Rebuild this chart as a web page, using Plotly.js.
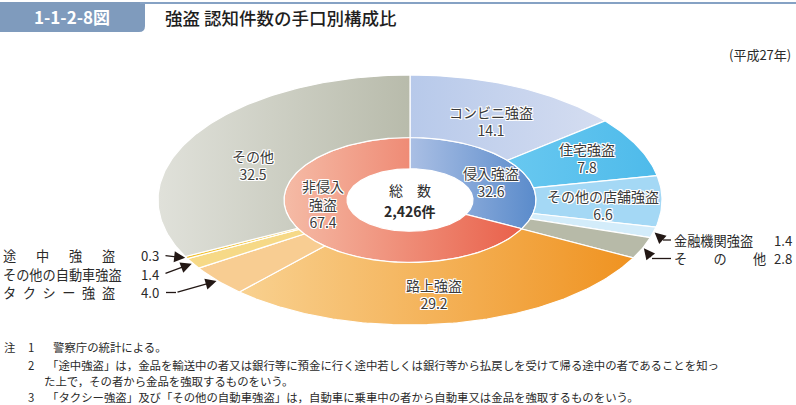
<!DOCTYPE html>
<html><head><meta charset="utf-8">
<script src="https://cdn.plot.ly/plotly-3.0.1.min.js"></script>
<style>html,body{margin:0;padding:0;background:#fff}#chart{width:796px;height:405px}</style>
</head><body><div id="chart"></div>
<script>
// ---------------- data ----------------
const innerLabels = ['侵入強盗', '非侵入<br>強盗'];
const innerValues = [32.6, 67.4];
const outerLabels = ['コンビニ強盗', '住宅強盗', 'その他の店舗強盗', '金融機関強盗', 'その他',
                     '路上強盗', 'タクシー強盗', 'その他の自動車強盗', '途中強盗', 'その他'];
const outerValues = [14.1, 7.8, 6.6, 1.4, 2.8, 29.2, 4.0, 1.4, 0.3, 32.5];
const calloutNames = ['', '', '', '金融機関強盗', 'そ　　の　　他', '',
  'タ\u2002ク\u2002シ\u2002ー\u2002強\u2002盗', 'その他の自動車強盗', '途　\u2002中　\u2002強　\u2002盗', ''];
const totalLabel = '総　数';
const totalCount = '2,426件';
const chartNo = '1-1-2-8図';
const chartTitle = '強盗 認知件数の手口別構成比';
const yearNote = '(平成27年)';
const notes = [
  ['注', '1', '警察庁の統計による。'],
  ['', '2', '「途中強盗」は，金品を輸送中の者又は銀行等に預金に行く途中若しくは銀行等から払戻しを受けて帰る途中の者であることを知っ'],
  ['', '', 'た上で，その者から金品を強取するものをいう。'],
  ['', '3', '「タクシー強盗」及び「その他の自動車強盗」は，自動車に乗車中の者から自動車又は金品を強取するものをいう。']
];

// ---------------- styles / geometry ----------------
const W = 796, H = 405, CX = 410, CY = 200, RXPX = 252, RYPX = 125;
const R_HOLE = 0.25, R_MID = 0.5, R_OUT = 1.0;
const FONT = '"Noto Sans CJK JP", "Noto Sans", sans-serif';
const HALO = '1px 1px 0 #fff, -1px -1px 0 #fff, 1px -1px 0 #fff, -1px 1px 0 #fff, 0 1px 0 #fff, 0 -1px 0 #fff, 1px 0 0 #fff, -1px 0 0 #fff';
const px2x = p => (p - CX) / RXPX;
const py2y = p => (CY - p) / RYPX;
const px2paper = p => p / W;
const py2paper = p => 1 - p / H;

const innerStyle = [
  {grad: [['0', '#aabfe4'], ['1', '#5a8bcb']], start: 0, stop: 0.5, shift: [0, -6]},
  {grad: [['0', '#f5bba6'], ['1', '#e9604a']], start: -0.5, stop: 0.45, shift: [-6, 20]}
];
const outerStyle = [
  {grad: [['0', '#b7c9ea'], ['1', '#d6def1']], start: 0, stop: 0.8, shift: [0, -6], label: true},
  {grad: [['0', '#6ccaf1'], ['1', '#4dbaea']], start: 0.3, stop: 1, shift: [6, 2], label: true},
  {color: '#a4d8f5', shift: [4, -4], label: true},
  {color: '#d3ecfa'},
  {color: '#b7baa8'},
  {grad: [['0', '#f9d495'], ['1', '#ef901c']], start: -0.75, stop: 0.95, shift: [-8, -2], label: true},
  {color: '#f8cd92'},
  {color: '#f6d987'},
  {color: '#f2c232'},
  {grad: [['0', '#e0e1da'], ['1', '#b8bbab']], start: -1, stop: 0, shift: [4, -14], label: true}
];

function wedge(a0, a1, r0, r1) {
  const n = Math.max(2, Math.ceil((a1 - a0) / 1.0));
  const xs = [], ys = [];
  for (let i = 0; i <= n; i++) {
    const a = (a0 + (a1 - a0) * i / n) * Math.PI / 180;
    xs.push(r1 * Math.sin(a)); ys.push(r1 * Math.cos(a));
  }
  for (let i = n; i >= 0; i--) {
    const a = (a0 + (a1 - a0) * i / n) * Math.PI / 180;
    xs.push(r0 * Math.sin(a)); ys.push(r0 * Math.cos(a));
  }
  xs.push(xs[0]); ys.push(ys[0]);
  return {xs, ys};
}

function ringAngles(values) {
  const tot = values.reduce((a, b) => a + b, 0);
  let c = 0;
  return values.map(v => { const a0 = c / tot * 360; c += v; return [a0, c / tot * 360]; });
}

const traces = [];
const annotations = [];
const shapes = [];
const labelFont = {family: FONT, size: 14, color: '#3a3a3a', shadow: HALO};

function addRing(values, styles, r0, r1) {
  const ang = ringAngles(values);
  values.forEach((v, i) => {
    const [a0, a1] = ang[i];
    const w = wedge(a0, a1, r0, r1);
    const st = styles[i];
    const t = {
      type: 'scatter', mode: 'lines', x: w.xs, y: w.ys, fill: 'toself',
      line: {color: '#ffffff', width: 1.2}, hoverinfo: 'skip', showlegend: false
    };
    if (st.grad) {
      t.fillcolor = st.grad[0][1];
      t.fillgradient = {type: 'horizontal', start: st.start, stop: st.stop,
        colorscale: st.grad.map(g => [Number(g[0]), g[1]])};
    } else {
      t.fillcolor = st.color;
    }
    traces.push(t);
  });
  return ang;
}

const angIn = addRing(innerValues, innerStyle, R_HOLE, R_MID);
const angOut = addRing(outerValues, outerStyle, R_MID, R_OUT);

function midPoint(a, r) {
  const m = (a[0] + a[1]) / 2 * Math.PI / 180;
  return [r * Math.sin(m), r * Math.cos(m)];
}
innerValues.forEach((v, i) => {
  const [x, y] = midPoint(angIn[i], (R_HOLE + R_MID) / 2);
  annotations.push({x, y, xref: 'x', yref: 'y', showarrow: false, xanchor: 'center', yanchor: 'middle',
    text: innerLabels[i] + '<br>' + v.toFixed(1), font: labelFont,
    xshift: innerStyle[i].shift[0], yshift: innerStyle[i].shift[1], align: 'center'});
});
outerValues.forEach((v, i) => {
  const st = outerStyle[i];
  if (!st.label) return;
  const [x, y] = midPoint(angOut[i], (R_MID + R_OUT) / 2);
  annotations.push({x, y, xref: 'x', yref: 'y', showarrow: false, xanchor: 'center', yanchor: 'middle',
    text: outerLabels[i] + '<br>' + v.toFixed(1), font: labelFont,
    xshift: st.shift[0], yshift: st.shift[1], align: 'center'});
});

// callouts: [side, textY(px), bendX(px), lineStartX(px)]
const calloutPos = {
  3: ['right', 240, 663, 671],
  4: ['right', 258.5, 652, 671],
  8: ['left', 255.5, 164, 164],
  7: ['left', 274, 164, 164],
  6: ['left', 292.5, 176, 166]
};
const cFont = {family: FONT, size: 13.2, color: '#2a2a2a'};
Object.keys(calloutPos).forEach(k => {
  const i = Number(k);
  const [side, ty, bx, lx] = calloutPos[k];
  const [tx, tyd] = midPoint(angOut[i], R_OUT * 1.005);
  const nameX = side === 'right' ? 673 : 2;
  const valX = side === 'right' ? 793 : 160;
  annotations.push({x: px2paper(nameX), y: py2paper(ty), xref: 'paper', yref: 'paper', xanchor: 'left', yanchor: 'middle',
    showarrow: false, text: calloutNames[i], font: cFont, borderpad: 0});
  annotations.push({x: px2paper(valX), y: py2paper(ty), xref: 'paper', yref: 'paper', xanchor: 'right', yanchor: 'middle',
    showarrow: false, text: outerValues[i].toFixed(1), font: cFont, borderpad: 0});
  if (lx !== bx) {
    shapes.push({type: 'line', xref: 'x', yref: 'y', x0: px2x(lx), x1: px2x(bx), y0: py2y(ty), y1: py2y(ty),
      line: {color: '#231815', width: 1.3}});
  }
  annotations.push({x: tx, y: tyd, xref: 'x', yref: 'y', ax: px2x(bx), ay: py2y(ty), axref: 'x', ayref: 'y',
    text: '', showarrow: true, arrowhead: 2, arrowsize: 1.7, arrowwidth: 1.3, arrowcolor: '#231815', standoff: 0});
});

// center text
annotations.push({x: 0, y: 0, xref: 'x', yref: 'y', showarrow: false, text: totalLabel, yshift: 10,
  xanchor: 'center', yanchor: 'middle', font: {family: FONT, size: 14, color: '#2a2a2a'}});
annotations.push({x: 0, y: 0, xref: 'x', yref: 'y', showarrow: false, text: '<b>' + totalCount + '</b>', yshift: -11,
  xanchor: 'center', yanchor: 'middle', font: {family: FONT, size: 14, color: '#2a2a2a'}});

// header
shapes.push({type: 'path', xref: 'paper', yref: 'paper', layer: 'below',
  path: `M0,${py2paper(2)} L${px2paper(145)},${py2paper(2)} L${px2paper(145)},${py2paper(26)} Q${px2paper(145)},${py2paper(32)} ${px2paper(139)},${py2paper(32)} L0,${py2paper(32)} Z`,
  fillcolor: '#7f9bbd', line: {width: 0}});
shapes.push({type: 'line', xref: 'paper', yref: 'paper', x0: px2paper(140), x1: 1, y0: py2paper(3), y1: py2paper(3),
  line: {color: '#86a2c4', width: 2}});
annotations.push({x: px2paper(72), y: py2paper(17), xref: 'paper', yref: 'paper', xanchor: 'center', yanchor: 'middle',
  showarrow: false, text: '<b>' + chartNo + '</b>', font: {family: FONT, size: 17, color: '#ffffff'}});
annotations.push({x: px2paper(163), y: py2paper(18), xref: 'paper', yref: 'paper', xanchor: 'left', yanchor: 'middle',
  showarrow: false, text: chartTitle, font: {family: FONT, size: 17.5, color: '#1e1e1e', weight: 500}});
annotations.push({x: px2paper(793), y: py2paper(55), xref: 'paper', yref: 'paper', xanchor: 'right', yanchor: 'middle',
  showarrow: false, text: yearNote, font: {family: FONT, size: 13, color: '#2a2a2a'}});

// notes
const noteY = [347, 365, 381, 397];
const nFont = {family: FONT, size: 11.4, color: '#2a2a2a'};
notes.forEach((n, i) => {
  const y = py2paper(noteY[i]);
  if (n[0]) annotations.push({x: px2paper(3), y, xref: 'paper', yref: 'paper', xanchor: 'left', yanchor: 'middle', showarrow: false, text: n[0], font: nFont, borderpad: 0});
  if (n[1]) annotations.push({x: px2paper(27), y, xref: 'paper', yref: 'paper', xanchor: 'left', yanchor: 'middle', showarrow: false, text: n[1], font: nFont, borderpad: 0});
  const sx = i === 0 ? 52 : (i === 2 ? 43 : 46);
  annotations.push({x: px2paper(sx), y, xref: 'paper', yref: 'paper', xanchor: 'left', yanchor: 'middle', showarrow: false, text: n[2], font: nFont, borderpad: 0});
});

const layout = {
  width: W, height: H, margin: {l: 0, r: 0, t: 0, b: 0},
  paper_bgcolor: '#ffffff', plot_bgcolor: '#ffffff', showlegend: false,
  xaxis: {range: [px2x(0), px2x(W)], visible: false, fixedrange: true},
  yaxis: {range: [py2y(H), py2y(0)], visible: false, fixedrange: true},
  annotations, shapes, font: {family: FONT}
};
Plotly.newPlot('chart', traces, layout, {displayModeBar: false, staticPlot: true});
</script></body></html>
